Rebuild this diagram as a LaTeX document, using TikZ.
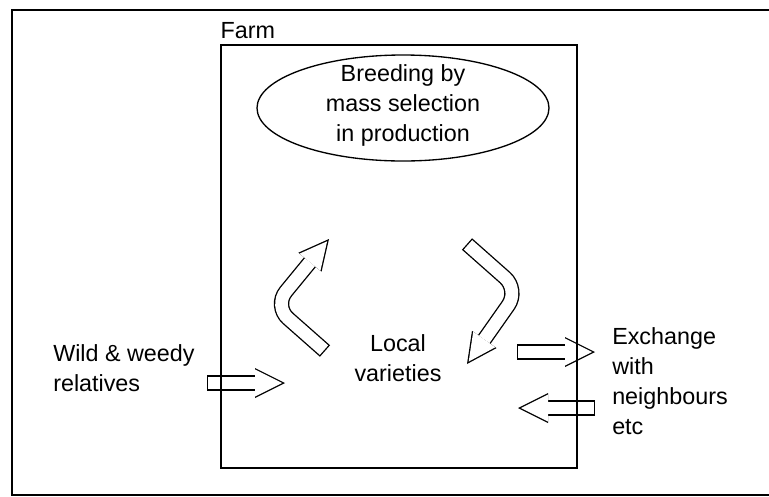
\documentclass[tikz,border=0pt]{standalone}
\usepackage{fontspec}
\setmainfont{Liberation Sans}
\usetikzlibrary{arrows.meta,shapes.geometric}

\begin{document}
\begin{tikzpicture}[x=0.75pt,y=-0.75pt,
 txt/.style={inner sep=0pt,font=\fontsize{17.5pt}{22.5pt}\selectfont},
 shaft/.style={line width=11.5pt,rounded corners=14pt,-{Triangle[length=22.5pt,width=22.5pt,line width=0pt]}},
 hollow/.style={white,line width=9.5pt,rounded corners=14pt,shorten <=1pt,shorten >=2.24pt,-{Triangle[length=20.26pt,width=20.26pt,line width=0pt]}}]
\useasboundingbox (0,0) rectangle (769,497);
\draw[line width=0.8pt] (780,10) -- (12,10) -- (12,495) -- (780,495);
% texts
\node[txt,align=center] (breedtxt) at (403,105) {Breeding by\\mass selection\\in production};
\node[txt,align=center] (local) at (398,358) {Local\\varieties};
\node[txt,align=left,anchor=west] (wild) at (53,368.5) {Wild \& weedy\\relatives};
\node[txt,align=left,anchor=west] (exch) at (612,381) {Exchange\\with\\neighbours\\etc};
\node[ellipse,draw,line width=1pt,minimum width=219pt,minimum height=79.5pt] (breed) at (403,108) {};
% arrow ends
\coordinate (wildA) at (207,383);
\coordinate (wildB) at (285,383);
\coordinate (outA) at (517,352);
\coordinate (outB) at (595,352);
\coordinate (inA) at (595,408);
\coordinate (inB) at (518,408);
\coordinate (upA) at (325,351);
\coordinate (upM) at (274,306);
\coordinate (upB) at (329,239);
\coordinate (downA) at (467,244);
\coordinate (downM) at (519,290);
\coordinate (downB) at (467,364);
\draw[shaft] (wildA) -- (wildB);
\draw[hollow] (wildA) -- (wildB);
\draw[shaft] (outA) -- (outB);
\draw[hollow] (outA) -- (outB);
\draw[shaft] (inA) -- (inB);
\draw[hollow] (inA) -- (inB);
\draw[shaft] (upA) -- (upM) -- (upB);
\draw[hollow] (upA) -- (upM) -- (upB);
\draw[shaft] (downA) -- (downM) -- (downB);
\draw[hollow] (downA) -- (downM) -- (downB);
% farm box on top
\node[draw,line width=1.1pt,minimum width=267pt,minimum height=317.25pt,inner sep=0pt] (farm) at (399,256.5) {};
\node[txt,anchor=base west] (farmlbl) at ([yshift=4pt]farm.north west) {Farm};
\end{tikzpicture}
\end{document}
